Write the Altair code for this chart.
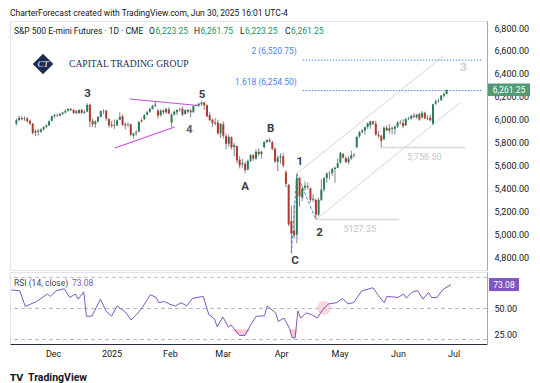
import altair as alt
import pandas as pd

# ---------------- data ----------------
holidays = ["2024-11-28", "2024-12-25", "2025-01-01", "2025-01-20",
            "2025-02-17", "2025-04-18", "2025-05-26", "2025-06-19"]
bar_dates = pd.bdate_range("2024-11-08", "2025-06-30", freq="C", holidays=holidays)

opens = [5965, 5995, 6015, 6005, 6010, 5990, 5965, 5885, 5905, 5895,
         5915, 5935, 5950, 5990, 6030, 6040, 6035, 6050, 6062, 6078,
         6095, 6085, 6075, 6058, 6085, 6060, 6070, 6130, 5990, 5960,
         5985, 6025, 6075, 6080, 6005, 5955, 5950, 5950, 6000, 6030,
         5960, 5955, 5960, 5860, 5880, 5895, 5995, 6005, 6045, 6070,
         6095, 6120, 6080, 6040, 6080, 6065, 6090, 5975, 6045, 6065,
         6085, 6095, 6050, 6070, 6080, 6065, 6120, 6125, 6135, 6150,
         6125, 6040, 6000, 5975, 5975, 5880, 5960, 5855, 5790, 5845,
         5760, 5770, 5650, 5610, 5615, 5565, 5640, 5690, 5660, 5720,
         5700, 5760, 5805, 5822, 5805, 5745, 5630, 5670, 5680, 5540,
         5430, 5115, 5030, 4995, 5490, 5320, 5405, 5420, 5400, 5300,
         5300, 5170, 5300, 5390, 5490, 5530, 5535, 5570, 5580, 5625,
         5700, 5665, 5630, 5660, 5690, 5760, 5855, 5890, 5905, 5935,
         5950, 5985, 5965, 5870, 5860, 5830, 5930, 5905, 5920, 5920,
         5940, 5975, 5970, 5950, 6005, 6010, 6035, 6020, 6050, 6020,
         6060, 6010, 6020, 5965, 6140, 6160, 6170, 6210, 6223.25]
highs = [6010, 6035, 6030, 6030, 6025, 6000, 5970, 5915, 5920, 5925,
         5945, 5960, 5995, 6035, 6050, 6055, 6060, 6070, 6090, 6100,
         6100, 6095, 6085, 6090, 6095, 6085, 6145, 6140, 6010, 5995,
         6030, 6080, 6090, 6085, 6015, 5990, 6000, 6005, 6065, 6045,
         5975, 5975, 5965, 5885, 5910, 5990, 6010, 6050, 6075, 6105,
         6130, 6155, 6095, 6090, 6090, 6105, 6110, 6055, 6080, 6090,
         6105, 6115, 6090, 6095, 6095, 6125, 6135, 6145, 6160, 6155,
         6135, 6065, 6010, 6015, 6000, 5970, 5985, 5880, 5870, 5855,
         5800, 5775, 5680, 5660, 5635, 5650, 5700, 5700, 5740, 5750,
         5730, 5815, 5830, 5840, 5815, 5760, 5690, 5705, 5710, 5560,
         5440, 5250, 5260, 5528.75, 5500, 5420, 5460, 5450, 5410, 5350,
         5310, 5320, 5480, 5500, 5540, 5550, 5580, 5590, 5660, 5720,
         5710, 5680, 5680, 5730, 5710, 5860, 5900, 5920, 5940, 5975,
         5990, 5990, 5990, 5900, 5870, 5940, 5950, 5960, 5940, 5950,
         5990, 5995, 6005, 6015, 6025, 6040, 6060, 6050, 6060, 6075,
         6070, 6040, 6045, 6140, 6175, 6185, 6215, 6240, 6261.75]
lows = [5950, 5990, 5995, 5990, 5975, 5955, 5870, 5855, 5860, 5885,
        5905, 5925, 5945, 5985, 6015, 6025, 6030, 6040, 6055, 6070,
        6075, 6050, 6050, 6050, 6050, 6050, 6065, 5935, 5935, 5930,
        5975, 6020, 6050, 5990, 5930, 5930, 5920, 5945, 5995, 5945,
        5915, 5935, 5855, 5835, 5860, 5890, 5975, 5995, 6035, 6060,
        6090, 6110, 6010, 6025, 6045, 6050, 6045, 5935, 6035, 6040,
        6070, 6030, 6045, 6055, 6020, 6060, 6115, 6110, 6120, 6085,
        6020, 5990, 5935, 5950, 5870, 5840, 5835, 5740, 5760, 5740,
        5680, 5620, 5575, 5580, 5530, 5555, 5630, 5640, 5650, 5680,
        5660, 5750, 5795, 5800, 5730, 5620, 5550, 5615, 5580, 5410,
        5070, 4832, 4960, 4920, 5240, 5290, 5380, 5390, 5280, 5280,
        5127.25, 5160, 5290, 5370, 5450, 5480, 5510, 5450, 5575, 5615,
        5660, 5620, 5610, 5650, 5670, 5750, 5840, 5880, 5870, 5920,
        5920, 5950, 5860, 5840, 5756.5, 5820, 5900, 5880, 5870, 5870,
        5930, 5960, 5925, 5945, 5995, 6000, 6015, 6010, 5990, 6010,
        6005, 5995, 5985, 5955, 6130, 6150, 6165, 6195, 6223.25]
closes = [5995, 6015, 6005, 6010, 5985, 5965, 5885, 5900, 5895, 5915,
          5935, 5950, 5985, 6030, 6040, 6035, 6050, 6062, 6078, 6095,
          6085, 6060, 6058, 6085, 6060, 6070, 6130, 5985, 5960, 5985,
          6025, 6075, 6080, 6010, 5950, 5945, 5945, 5995, 6025, 5955,
          5950, 5960, 5870, 5880, 5890, 5980, 5985, 6040, 6065, 6095,
          6120, 6130, 6035, 6080, 6065, 6095, 6055, 6045, 6070, 6085,
          6090, 6045, 6085, 6085, 6065, 6120, 6125, 6140, 6150, 6125,
          6030, 5995, 5970, 5965, 5880, 5965, 5860, 5790, 5850, 5760,
          5780, 5645, 5600, 5620, 5560, 5640, 5690, 5660, 5720, 5700,
          5720, 5805, 5822, 5810, 5745, 5635, 5670, 5680, 5600, 5440,
          5085, 5005, 4990, 5490, 5330, 5400, 5425, 5410, 5300, 5310,
          5170, 5300, 5390, 5490, 5530, 5535, 5570, 5580, 5620, 5710,
          5670, 5630, 5660, 5690, 5685, 5850, 5890, 5905, 5935, 5970,
          5985, 5965, 5870, 5860, 5815, 5930, 5905, 5925, 5930, 5940,
          5975, 5970, 5945, 6005, 6010, 6035, 6025, 6045, 6000, 6060,
          6010, 6005, 5995, 6135, 6160, 6165, 6210, 6225, 6261.25]

month_idx = [15, 36, 57, 76, 97, 118, 139, 159]
month_lbl = ["Dec", "2025", "Feb", "Mar", "Apr", "May", "Jun", "Jul"]
price_ticks = [4800, 5000, 5200, 5400, 5600, 5800, 6000, 6200, 6400, 6600, 6800]
rsi_ticks = [25, 50]
rsi_levels = [80, 50, 20]

rsi_idx = [0, 3, 5, 9, 13, 14, 16, 19, 21, 23, 24, 26, 27, 29, 32, 34, 36, 38, 41, 43,
           45, 47, 50, 52, 53, 55, 57, 59, 61, 63, 65, 69, 71, 73, 74, 76, 78, 79, 82, 84,
           86, 88, 91, 92, 95, 96, 98, 100, 101, 102, 103, 104, 106, 108, 110, 112, 114, 117, 119, 121,
           123, 126, 130, 132, 134, 135, 139, 141, 142, 144, 146, 148, 150, 151, 153, 155, 158]
rsi_val = [67.9, 67, 52, 56.7, 64, 61.7, 67, 69, 60.6, 64, 59, 66, 42.4, 42.7, 59, 47.6, 42.6, 52.4, 46.6, 39,
           44, 50.7, 63.3, 60.6, 55.6, 56.7, 54, 52.4, 55.6, 52.4, 59.6, 61.7, 44, 40, 32.3, 41.8, 32.3, 34, 24, 24,
           34, 42.4, 43, 52.4, 45.7, 37.4, 40.8, 30.7, 21.5, 21.5, 47.6, 40.8, 45.7, 44, 40.8, 49, 54.3, 55.6, 59.6, 54.6,
           55.6, 67, 70, 62.3, 55.6, 61.7, 60.6, 64, 60, 65.6, 67.3, 59, 65.6, 60.6, 60.6, 67.9, 73.08]

wave_text = ["3", "5", "A", "B", "C", "1", "2"]
wave_i = [26.1, 68.2, 84.0, 93.4, 102.3, 104.1, 111.3]
wave_p = [6224, 6216, 5412, 5919, 4766, 5631, 5010]
wave4_i, wave4_p = [63.5], [5910]
wave3b_i, wave3b_p = [164.2], [6452]

tri_x0, tri_y0, tri_x1, tri_y1 = [41.6, 36.2], [6181, 5753], [66.7, 58.1], [6124, 5936]
chan_x0, chan_y0, chan_x1, chan_y1 = [110, 103], [5127.25, 5528.75], [163, 157], [6150, 6560]
fibp_i = [101, 103, 110]
fibp_p = [4832, 5528.75, 5127.25]
fib_lvl = [6254.5, 6520.75]
fib_txt = ["1.618 (6,254.50)", "2 (6,520.75)"]
fib_start, fib_end = 105.2, 171
sup_lvl = [5127.25, 5756.5]
sup_start = [110, 134]
sup_end = [140.5, 164.8]
sup_txt = ["5127.25", "5,756.50"]
sup_txt_i = [126.1, 149.8]

# ---------------- styling ----------------
UP, DOWN, WICK = "#2b7d55", "#b03a2e", "#80838c"
W, HP, HR = 477, 249, 72
FONT = "Roboto"

xscale = alt.Scale(domain=[-0.5, 171], nice=False, zero=False)
pscale = alt.Scale(domain=[4687, 6862], nice=False, zero=False)
rscale = alt.Scale(domain=[15.7, 85.2], nice=False, zero=False)

paxis = alt.Axis(orient="right", values=price_ticks, format=",.2f", title=None, grid=False,
                 ticks=False, labelFontSize=9, labelColor="#131722", labelPadding=7,
                 domainColor="#a3a6af", labelFont=FONT)
raxis = alt.Axis(orient="right", values=rsi_ticks, format=",.2f", title=None, grid=False,
                 ticks=False, labelFontSize=9, labelColor="#131722", labelPadding=7,
                 domainColor="#a3a6af", labelFont=FONT)
lbl_expr = "[" + ",".join(f"'{m}'" for m in month_lbl) + "][indexof([" + \
    ",".join(str(v) for v in month_idx) + "], datum.value)]"
xaxis = alt.Axis(values=month_idx, labelExpr=lbl_expr, title=None, grid=False, ticks=False,
                 labelFontSize=9, labelColor="#131722", labelPadding=5, domainColor="#2a2e39",
                 labelFont=FONT, labelFlush=False)


def PX(f):
    return alt.X(f, type="quantitative", scale=xscale, axis=None)


def PY(f):
    return alt.Y(f, type="quantitative", scale=pscale, axis=paxis)


def RX(f):
    return alt.X(f, type="quantitative", scale=xscale, axis=xaxis)


def RY(f):
    return alt.Y(f, type="quantitative", scale=rscale, axis=raxis)


one = pd.DataFrame({"k": [0]})


def ptext(text, x, y, color="#131722", size=8.5, align="left", weight="normal", font=FONT, **kw):
    return alt.Chart(one).mark_text(text=text, align=align, baseline="middle", fontSize=size,
                                    color=color, fontWeight=weight, font=font, **kw).encode(
        x=alt.value(x), y=alt.value(y))


df = pd.DataFrame({"i": list(range(len(closes))),
                   "date": [d.strftime("%Y-%m-%d") for d in bar_dates[:len(closes)]],
                   "open": opens, "high": highs, "low": lows, "close": closes})

# ---------------- price pane ----------------
seg_tri = pd.DataFrame({"x0": tri_x0, "y0": tri_y0, "x1": tri_x1, "y1": tri_y1})
seg_chan = pd.DataFrame({"x0": chan_x0, "y0": chan_y0, "x1": chan_x1, "y1": chan_y1})
seg_fib = pd.DataFrame({"x0": fibp_i[:-1], "y0": fibp_p[:-1], "x1": fibp_i[1:], "y1": fibp_p[1:]})
fib_df = pd.DataFrame({"x0": [fib_start] * 2, "x1": [fib_end] * 2, "p": fib_lvl, "t": fib_txt})
sup_df = pd.DataFrame({"x0": sup_start, "x1": sup_end, "p": sup_lvl, "t": sup_txt, "ti": sup_txt_i})


def segs(d, color, width=1.0, dash=None):
    kw = dict(color=color, strokeWidth=width)
    if dash:
        kw["strokeDash"] = dash
    return alt.Chart(d).mark_rule(**kw).encode(x=PX("x0"), y=PY("y0"), x2="x1:Q", y2="y1:Q")


tri = segs(seg_tri, "#c54fd3", 1.1)
chan = segs(seg_chan, "#d3d5db", 1)
fibdiag = segs(seg_fib, "#4f7fe8", 1, [3, 2])
fiblines = alt.Chart(fib_df).mark_rule(color="#4f7fe8", strokeWidth=1, strokeDash=[1.5, 1.5]).encode(
    x=PX("x0"), x2="x1:Q", y=PY("p"))
fibtext = alt.Chart(fib_df).mark_text(align="right", baseline="middle", fontSize=8.5, color="#4f7fe8",
                                      dx=-6, dy=-9, font=FONT).encode(x=PX("x0"), y=PY("p"), text="t:N")
suplines = alt.Chart(sup_df).mark_rule(color="#d6d8de", strokeWidth=1.5).encode(
    x=PX("x0"), x2="x1:Q", y=PY("p"))
suptext = alt.Chart(sup_df).mark_text(align="center", baseline="middle", fontSize=9, color="#c3c5cc",
                                      dy=9, font=FONT).encode(x=PX("ti"), y=PY("p"), text="t:N")

wicks = alt.Chart(df).mark_rule(color=WICK, strokeWidth=1).encode(x=PX("i"), y=PY("low"), y2="high:Q")
bodies = alt.Chart(df).mark_bar(size=2).encode(
    x=PX("i"), y=PY("open"), y2="close:Q",
    color=alt.condition("datum.close >= datum.open", alt.value(UP), alt.value(DOWN)))

wave_df = pd.DataFrame({"i": wave_i, "p": wave_p, "t": wave_text})
waves = alt.Chart(wave_df).mark_text(fontSize=11.5, fontWeight="bold", color="#3b3e46",
                                     baseline="middle", font=FONT).encode(x=PX("i"), y=PY("p"), text="t:N")
wave4 = alt.Chart(pd.DataFrame({"i": wave4_i, "p": wave4_p, "t": ["4"]})).mark_text(
    fontSize=11.5, fontWeight="bold", color="#5d606b", baseline="middle", font=FONT).encode(
    x=PX("i"), y=PY("p"), text="t:N")
wave3b = alt.Chart(pd.DataFrame({"i": wave3b_i, "p": wave3b_p, "t": ["3"]})).mark_text(
    fontSize=11.5, fontWeight="bold", color="#c9cbd1", baseline="middle", font=FONT).encode(
    x=PX("i"), y=PY("p"), text="t:N")

last_df = pd.DataFrame({"c": [closes[-1]]})
pbox = alt.Chart(last_df).transform_calculate(hi="datum.c + 55", lo="datum.c - 55").mark_rect(
    color="#4e9a74").encode(x=alt.value(W + 1), x2=alt.value(W + 43), y=PY("hi"), y2="lo:Q")
ptxt = alt.Chart(last_df).mark_text(color="white", fontSize=8.5, align="center", baseline="middle",
                                    font=FONT).encode(
    x=alt.value(W + 22), y=PY("c"), text=alt.Text("c:Q", format=",.2f"))

logo = alt.Chart(one).mark_point(shape="diamond", filled=True, size=420, color="#1e2c55", opacity=1).encode(
    x=alt.value(33), y=alt.value(43))
logo_t = ptext("CT", 33, 43, color="white", size=9, align="center", font="Liberation Serif", fontStyle="italic")
logo_name = ptext("CAPITAL TRADING GROUP", 59, 43, color="#1e2c55", size=9.6, font="Liberation Serif")

hdr = [ptext("S&P 500 E-mini Futures · 1D · CME", 4, 10),
       ptext("O", 139, 10), ptext("6,223.25", 145.5, 10, color="#22915f"),
       ptext("H", 184, 10), ptext("6,261.75", 190.5, 10, color="#22915f"),
       ptext("L", 230, 10), ptext("6,223.25", 235, 10, color="#22915f"),
       ptext("C", 275, 10), ptext("6,261.25", 281, 10, color="#22915f")]

price = alt.layer(tri, chan, suplines, suptext, fiblines, fibtext, fibdiag, wicks, bodies,
                  waves, wave4, wave3b, logo, logo_t, logo_name, *hdr, pbox, ptxt).properties(
    width=W, height=HP,
    title=alt.TitleParams("CharterForecast created with TradingView.com, Jun 30, 2025 16:01 UTC-4",
                          anchor="start", fontSize=8.5, fontWeight="normal", font=FONT,
                          color="#131722", offset=4))

# ---------------- RSI pane ----------------
rsi_df = pd.DataFrame({"i": rsi_idx, "rsi": rsi_val})
lvl_df = pd.DataFrame({"lvl": rsi_levels})
lvls = alt.Chart(lvl_df).mark_rule(color="#b8bbc3", strokeDash=[4, 3], strokeWidth=1).encode(y=RY("lvl"))
os_fill = alt.Chart(rsi_df).transform_calculate(lo="min(datum.rsi, 30)", base="30").mark_area(
    color="#f6b9c6", opacity=0.75).encode(x=RX("i"), y=RY("lo"), y2="base:Q")
ob_fill = alt.Chart(rsi_df).transform_calculate(hi="max(datum.rsi, 70)", base="70").mark_area(
    color="#c5e6cf", opacity=0.6).encode(x=RX("i"), y=RY("hi"), y2="base:Q")
mark_pt = alt.Chart(pd.DataFrame({"i": [112.4], "r": [50.5]})).mark_circle(
    size=190, color="#f4b3bf", opacity=0.55).encode(x=RX("i"), y=RY("r"))
rsi_line = alt.Chart(rsi_df).mark_line(color="#7e57c2", strokeWidth=1).encode(x=RX("i"), y=RY("rsi"))
rlast = pd.DataFrame({"r": [rsi_val[-1]]})
rbox = alt.Chart(rlast).transform_calculate(hi="datum.r + 6.3", lo="datum.r - 6.3").mark_rect(
    color="#7e57c2").encode(x=alt.value(W + 2), x2=alt.value(W + 32), y=RY("hi"), y2="lo:Q")
rtxt = alt.Chart(rlast).mark_text(color="white", fontSize=8.5, align="center", baseline="middle",
                                  font=FONT).encode(
    x=alt.value(W + 17), y=RY("r"), text=alt.Text("r:Q", format=".2f"))
rsi_lbl = ptext("RSI (14, close)", 4, 11, color="#434651")
rsi_num = ptext("73.08", 62, 11, color="#7e57c2")
tv_logo = ptext("TV", 0, HR + 34, color="#131722", size=9, weight="bold", font="DejaVu Sans")
tv_name = ptext("TradingView", 18, HR + 34, color="#131722", size=10.5, weight="bold")

rsi = alt.layer(lvls, os_fill, ob_fill, mark_pt, rsi_line, rbox, rtxt, rsi_lbl, rsi_num,
                tv_logo, tv_name).properties(width=W, height=HR)

chart = alt.vconcat(price, rsi, spacing=0).resolve_scale(
    x="independent", y="independent").properties(
    padding=0, background="white").configure_view(stroke="#e0e3eb")

chart.save("out.html", embed_options={"renderer": "svg", "actions": False})
